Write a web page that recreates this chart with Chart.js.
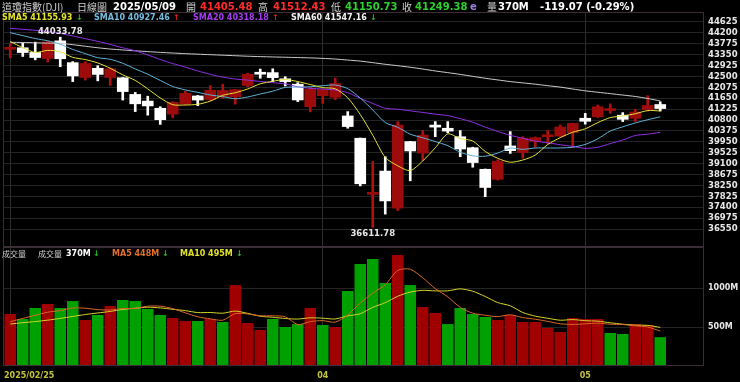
<!DOCTYPE html>
<html>
<head>
<meta charset="utf-8">
<script src="https://cdn.jsdelivr.net/npm/chart.js@4.4.1/dist/chart.umd.min.js"></script>
<style>
  html, body { margin: 0; padding: 0; background: #000; }
  #wrap { position: relative; width: 740px; height: 382px; overflow: hidden; background: #000; }
  canvas { position: absolute; left: 0; }
  #price { top: 0; }
  #vol { top: 247px; }
  .t { position: absolute; white-space: nowrap; line-height: 1; font-family: "DejaVu Sans", sans-serif; font-weight: bold; z-index: 2; }
  .c { font-family: "Noto Sans CJK TC", sans-serif; font-weight: normal; color: #cfcfcf; }
  .l1 { top: 2px; font-size: 10px; }
  .l2 { top: 14px; font-size: 8px; }
  .l3 { top: 250px; font-size: 8px; }
  .up { color: #e42020; }
  .dn { color: #22c422; }
</style>
</head>
<body>
<div id="wrap">
  <canvas id="price" width="740" height="247"></canvas>
  <canvas id="vol" width="740" height="135"></canvas>

  <span class="t c l1" style="left:2px">道瓊指數(DJI)</span>
  <span class="t c l1" style="left:77px">日線圖</span>
  <span class="t l1" style="left:113px;color:#fff">2025/05/09</span>
  <span class="t c l1" style="left:186px">開</span>
  <span class="t l1" style="left:200px;color:#ff2b2b">41405.48</span>
  <span class="t c l1" style="left:258px">高</span>
  <span class="t l1" style="left:273px;color:#ff2b2b">41512.43</span>
  <span class="t c l1" style="left:331px">低</span>
  <span class="t l1" style="left:345px;color:#2ed12e">41150.73</span>
  <span class="t c l1" style="left:402px">收</span>
  <span class="t l1" style="left:415px;color:#2ed12e">41249.38</span>
  <span class="t l1" style="left:470px;color:#9a7ee0">e</span>
  <span class="t c l1" style="left:487px">量</span>
  <span class="t l1" style="left:498px;color:#fff">370M</span>
  <span class="t l1" style="left:540px;color:#fff">-119.07 (-0.29%)</span>

  <span class="t l2" style="left:2px;color:#e4e42a">SMA5 41155.93</span>
  <span class="t l2 dn" style="left:76px">↓</span>
  <span class="t l2" style="left:94px;color:#72bde0">SMA10 40927.46</span>
  <span class="t l2 up" style="left:173px">↑</span>
  <span class="t l2" style="left:193px;color:#a43cf0">SMA20 40318.18</span>
  <span class="t l2 up" style="left:272px">↑</span>
  <span class="t l2" style="left:291px;color:#f2f2f2">SMA60 41547.16</span>
  <span class="t l2 dn" style="left:370px">↓</span>

  <span class="t c l3" style="left:2px">成交量</span>
  <span class="t c l3" style="left:38px">成交量</span>
  <span class="t l3" style="left:66px;color:#fff">370M</span>
  <span class="t l3 dn" style="left:93px">↓</span>
  <span class="t l3" style="left:112px;color:#e0702c">MA5 448M</span>
  <span class="t l3 dn" style="left:162px">↓</span>
  <span class="t l3" style="left:180px;color:#e2e22a">MA10 495M</span>
  <span class="t l3 dn" style="left:236px">↓</span>
</div>

<script>
// trading days shown
const dates = [
  '02/25', '02/26', '02/27', '02/28',
  '03/03', '03/04', '03/05', '03/06', '03/07', '03/10', '03/11', '03/12', '03/13', '03/14',
  '03/17', '03/18', '03/19', '03/20', '03/21', '03/24', '03/25', '03/26', '03/27', '03/28', '03/31',
  '04/01', '04/02', '04/03', '04/04', '04/07', '04/08', '04/09', '04/10', '04/11', '04/14',
  '04/15', '04/16', '04/17', '04/21', '04/22', '04/23', '04/24', '04/25', '04/28', '04/29', '04/30',
  '05/01', '05/02', '05/05', '05/06', '05/07', '05/08', '05/09'
];
const emptySlots = ['', '', ''];

const opens = [43560, 43620, 43440, 43200, 43890, 43040, 42460, 42820, 42460, 42450,
  41800, 41540, 41260, 41030, 41420, 41740, 41600, 41700, 41700, 42150,
  42620, 42650, 42410, 42200, 41320, 41750, 41690, 40960, 40090, 37900,
  38810, 37360, 39960, 39510, 40570, 40480, 40150, 39720, 38880, 38490,
  39790, 39530, 39960, 40150, 40180, 40310, 40870, 40930, 41170, 40990,
  40870, 41210, 41405.48];
const highs = [43780, 43800, 43840, 43870, 44033.78, 43080, 43080, 42920, 42830, 42460,
  41880, 41730, 41320, 41520, 41930, 41760, 42140, 42200, 41990, 42630,
  42790, 42800, 42490, 42260, 42075, 42010, 42440, 41130, 40100, 39180,
  39370, 40740, 39970, 40390, 40740, 40740, 40390, 39740, 38890, 39250,
  40350, 40150, 40140, 40390, 40610, 40680, 41060, 41390, 41430, 41090,
  41220, 41750, 41512.43];
const lows = [43230, 43280, 43150, 43060, 42880, 42300, 42360, 42330, 42150, 41580,
  41130, 40990, 40630, 40890, 41400, 41360, 41560, 41650, 41420, 42100,
  42430, 42300, 42130, 41520, 41120, 41450, 41600, 40480, 38230, 36611.78,
  37130, 37270, 38430, 39220, 40150, 40300, 39370, 38960, 37810, 38460,
  39500, 39310, 39740, 39870, 40150, 39740, 40640, 40900, 41060, 40740,
  40740, 41150, 41150.73];
const closes = [43621.16, 43433.12, 43239.50, 43840.91, 43191.24, 42520.99, 43006.59, 42579.08, 42801.72, 41911.71,
  41433.48, 41350.93, 40813.57, 41488.19, 41841.63, 41581.31, 41964.63, 41953.32, 41985.35, 42583.32,
  42587.50, 42454.79, 42299.70, 41583.90, 42001.76, 41989.96, 42225.32, 40545.93, 38314.86, 37965.60,
  37645.59, 40608.45, 39593.66, 40212.71, 40524.79, 40368.96, 39669.39, 39142.23, 38170.41, 39186.98,
  39606.57, 40093.40, 40113.50, 40227.59, 40527.62, 40669.36, 40752.96, 41317.43, 41218.83, 40829.00,
  41113.97, 41368.45, 41249.38];
const prevClose = 43461.21;

const sma5 = [43863, 43624, 43437, 43519, 43465, 43245, 43160, 43028, 42820, 42564,
  42347, 42015, 41662, 41400, 41386, 41415, 41538, 41766, 41865, 42014,
  42215, 42313, 42382, 42302, 42186, 42066, 42020, 41669, 41016, 40208,
  39340, 39016, 38826, 39205, 39717, 40262, 40074, 39984, 39575, 39308,
  39155, 39240, 39434, 39846, 40114, 40326, 40458, 40699, 40897, 40958,
  41046, 41170, 41156];
const sma10 = [44209, 44093, 43980, 43893, 43758, 43554, 43392, 43232, 43170, 43015,
  42796, 42588, 42345, 42110, 41975, 41881, 41777, 41714, 41632, 41700,
  41815, 41925, 42074, 42084, 42100, 42140, 42167, 42026, 41659, 41197,
  40703, 40518, 40248, 40110, 39963, 39801, 39545, 39405, 39390, 39512,
  39708, 39657, 39709, 39710, 39711, 39741, 39849, 40067, 40371, 40536,
  40686, 40814, 40927];
const sma20 = [44379, 44340, 44300, 44255, 44180, 44080, 43975, 43870, 43750, 43620,
  43503, 43340, 43163, 43002, 42866, 42718, 42584, 42473, 42401, 42357,
  42306, 42257, 42210, 42097, 42037, 42011, 41972, 41870, 41646, 41448,
  41259, 41222, 41161, 41097, 41031, 40971, 40856, 40715, 40525, 40355,
  40206, 40088, 39978, 39910, 39837, 39771, 39697, 39736, 39881, 40024,
  40197, 40250, 40318];
const sma60 = [43833, 43825, 43815, 43800, 43790, 43740, 43680, 43620, 43570, 43535,
  43500, 43470, 43440, 43415, 43390, 43370, 43350, 43330, 43310, 43290,
  43275, 43262, 43250, 43238, 43225, 43205, 43180, 43140, 43100, 43040,
  42975, 42920, 42860, 42790, 42715, 42650, 42580, 42505, 42430, 42365,
  42300, 42250, 42200, 42140, 42085, 42010, 41940, 41885, 41830, 41775,
  41720, 41640, 41547];

// volume in millions
const volumes = [667, 603, 744, 795, 744, 833, 590, 654, 769, 846,
  833, 731, 654, 615, 577, 577, 603, 564, 1038, 551,
  462, 603, 500, 538, 744, 526, 500, 962, 1308, 1372,
  1064, 1423, 1038, 756, 679, 538, 744, 667, 628, 590,
  654, 564, 564, 487, 436, 615, 603, 603, 423, 410,
  538, 526, 370];
const volMa5 = [568, 610, 650, 690, 711, 744, 741, 723, 718, 738,
  738, 767, 767, 736, 682, 631, 605, 587, 672, 667,
  644, 644, 631, 531, 569, 582, 562, 654, 808, 934,
  1041, 1226, 1241, 1131, 992, 887, 751, 677, 651, 633,
  657, 621, 600, 572, 541, 533, 541, 549, 536, 531,
  515, 500, 448];
const volMa10 = [538, 555, 570, 588, 610, 635, 660, 680, 700, 725,
  741, 754, 745, 727, 710, 685, 686, 677, 704, 675,
  638, 625, 609, 602, 618, 613, 603, 643, 670, 752,
  812, 894, 948, 970, 963, 964, 989, 959, 891, 813,
  772, 686, 639, 612, 587, 595, 581, 575, 554, 536,
  524, 521, 495];

const priceTicks = [44625, 44200, 43775, 43350, 42925, 42500, 42075, 41650, 41225, 40800,
  40375, 39950, 39525, 39100, 38675, 38250, 37825, 37400, 36975, 36550];
const volTicks = [500, 1000];
const xTickIdx = [0, 25, 46];
const xTickText = ['2025/02/25', '04', '05'];

const labels = dates.concat(emptySlots);
const candleUp = closes.map((c, i) => c >= opens[i]);
const volUp = closes.map((c, i) => c >= (i ? closes[i - 1] : prevClose));

const gridCol = '#242424';
const frameCol = '#3b2d35';
const xGridColor = c => xTickIdx.includes(c.index) ? '#2e2e2e' : 'rgba(0,0,0,0)';

// fixed axis width, no extra room reserved for the end labels
function fitRightAxis(s) {
  s.width = 36;
  s.paddingTop = 0;
  s.paddingBottom = 0;
}

// outline of the plot area
const framePlugin = {
  id: 'frame',
  afterDraw(chart) {
    const { ctx, chartArea: a } = chart;
    ctx.save();
    ctx.strokeStyle = frameCol;
    ctx.lineWidth = 1;
    ctx.strokeRect(a.left - 0.5, a.top - 0.5, a.right - a.left, a.bottom - a.top);
    ctx.restore();
  }
};

// highest high / lowest low labels
const extremePlugin = {
  id: 'extremes',
  afterDatasetsDraw(chart) {
    const { ctx, scales: { x, y } } = chart;
    const hi = Math.max(...highs), lo = Math.min(...lows);
    ctx.save();
    ctx.font = 'bold 8.5px "DejaVu Sans"';
    ctx.fillStyle = '#e8e8e8';
    ctx.textAlign = 'center';
    ctx.textBaseline = 'bottom';
    ctx.fillText(hi.toFixed(2), x.getPixelForValue(highs.indexOf(hi)), y.getPixelForValue(hi) - 1);
    ctx.textBaseline = 'top';
    ctx.fillText(lo.toFixed(2), x.getPixelForValue(lows.indexOf(lo)), y.getPixelForValue(lo) + 2);
    ctx.restore();
  }
};

// date labels under the volume panel
const dateLabelPlugin = {
  id: 'dateLabels',
  afterDraw(chart) {
    const { ctx, scales: { x }, chartArea } = chart;
    ctx.save();
    ctx.font = 'bold 8px "DejaVu Sans"';
    ctx.fillStyle = '#c4c43c';
    ctx.textBaseline = 'middle';
    xTickIdx.forEach((idx, k) => {
      const t = xTickText[k];
      const w = ctx.measureText(t).width;
      const px = Math.max(x.getPixelForValue(idx) - w / 2, chartArea.left);
      ctx.fillText(t, px, chartArea.bottom + 10);
    });
    ctx.restore();
  }
};

const tickFont = { family: 'DejaVu Sans', size: 8.5, weight: 'bold' };

function lineSet(data, color) {
  return {
    type: 'line', data: data, borderColor: color, borderWidth: 1,
    pointRadius: 0, tension: 0.25, order: 0
  };
}

new Chart(document.getElementById('price'), {
  type: 'bar',
  data: {
    labels: labels,
    datasets: [
      lineSet(sma5, '#e2e23c'),
      lineSet(sma10, '#62b2d6'),
      lineSet(sma20, '#9030e6'),
      lineSet(sma60, '#cccccc'),
      {
        data: opens.map((o, i) => [o, closes[i]]),
        backgroundColor: candleUp.map(u => u ? '#9e0b0b' : '#ffffff'),
        barThickness: 11, grouped: false, minBarLength: 2, order: 2
      },
      {
        data: lows.map((l, i) => [l, highs[i]]),
        backgroundColor: candleUp.map(u => u ? '#b01010' : '#ffffff'),
        barThickness: 2, grouped: false, order: 3
      }
    ]
  },
  options: {
    responsive: false,
    animation: false,
    layout: { autoPadding: false, padding: { left: 4, top: 13, right: 0, bottom: 0 } },
    plugins: { legend: { display: false }, tooltip: { enabled: false } },
    scales: {
      x: {
        ticks: { display: false },
        grid: { offset: false, drawTicks: false, color: xGridColor },
        border: { display: false }
      },
      y: {
        position: 'right',
        min: 35848, max: 44976,
        afterBuildTicks: s => { s.ticks = priceTicks.map(v => ({ value: v })); },
        afterFit: fitRightAxis,
        grid: { color: gridCol, drawTicks: false },
        border: { display: false },
        ticks: { color: '#e8e8e8', font: tickFont, padding: 4, autoSkip: false, callback: v => String(v) }
      }
    }
  },
  plugins: [framePlugin, extremePlugin]
});

new Chart(document.getElementById('vol'), {
  type: 'bar',
  data: {
    labels: labels,
    datasets: [
      lineSet(volMa5, '#d8682a'),
      lineSet(volMa10, '#d4d42a'),
      {
        data: volumes,
        backgroundColor: volUp.map(u => u ? '#a00000' : '#00a000'),
        barPercentage: 1, categoryPercentage: 0.92, order: 2
      }
    ]
  },
  options: {
    responsive: false,
    animation: false,
    layout: { autoPadding: false, padding: { left: 4, top: 1, right: 0, bottom: 16 } },
    plugins: { legend: { display: false }, tooltip: { enabled: false } },
    scales: {
      x: {
        ticks: { display: false },
        grid: { offset: false, drawTicks: false, color: xGridColor },
        border: { display: false }
      },
      y: {
        position: 'right',
        min: 0, max: 1513,
        afterBuildTicks: s => { s.ticks = volTicks.map(v => ({ value: v })); },
        afterFit: fitRightAxis,
        grid: { color: gridCol, drawTicks: false },
        border: { display: false },
        ticks: { color: '#e8e8e8', font: { family: 'DejaVu Sans', size: 8, weight: 'bold' }, padding: 4, autoSkip: false, callback: v => v + 'M' }
      }
    }
  },
  plugins: [framePlugin, dateLabelPlugin]
});
</script>
</body>
</html>
